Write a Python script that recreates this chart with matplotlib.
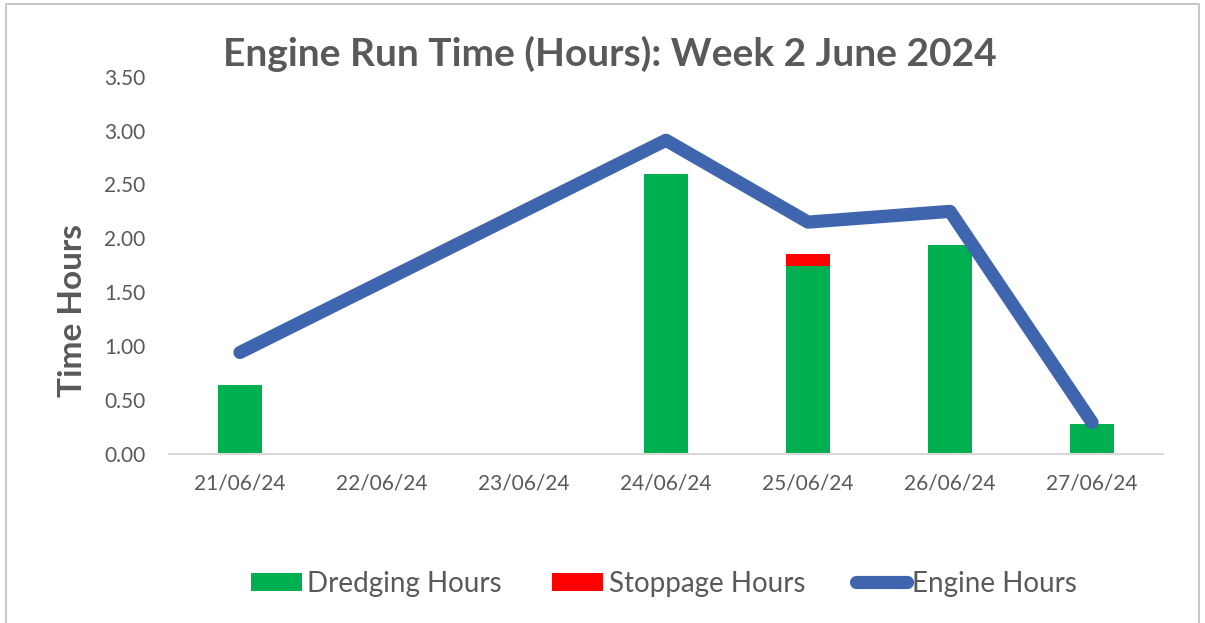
import numpy as np
import matplotlib
matplotlib.use("Agg")
import matplotlib.pyplot as plt
from matplotlib.patches import Rectangle

# values
dates = ["21/06/24", "22/06/24", "23/06/24", "24/06/24", "25/06/24", "26/06/24", "27/06/24"]
dredging = [0.64, 0.0, 0.0, 2.60, 1.74, 1.94, 0.28]
stoppage = [0.0, 0.0, 0.0, 0.0, 0.11, 0.0, 0.0]
engine = [0.94, np.nan, np.nan, 2.91, 2.15, 2.25, 0.29]

grey = "#595959"
plt.rcParams["font.family"] = ["Lato", "DejaVu Sans"]

fig = plt.figure(figsize=(12.05, 6.23), dpi=100)
ax = fig.add_axes([0.1402, 0.2717, 0.8250, 0.6052])

x = np.arange(len(dates))
b1 = ax.bar(x, dredging, width=0.31, color="#00B050", label="Dredging Hours", zorder=2)
b2 = ax.bar(x, stoppage, width=0.31, bottom=dredging, color="#FF0000", label="Stoppage Hours", zorder=2)

# empty days are skipped and the line joins the remaining points
eng = np.array(engine)
ok = ~np.isnan(eng)
l1, = ax.plot(x[ok], eng[ok], color="#3E65AD", lw=9.5, solid_capstyle="round",
              solid_joinstyle="round", label="Engine Hours", zorder=3)

ax.set_xlim(-0.5, len(dates) - 0.5)
ax.set_ylim(0, 3.5)
ax.set_yticks(np.arange(0, 3.51, 0.5))
ax.set_yticklabels([f"{v:.2f}" for v in np.arange(0, 3.51, 0.5)])
ax.set_xticks(x)
ax.set_xticklabels(dates)
ax.tick_params(axis="y", length=0, pad=17, labelsize=15, labelcolor=grey)
ax.tick_params(axis="x", length=0, pad=14, labelsize=15, labelcolor=grey)

for side in ["top", "right", "left"]:
    ax.spines[side].set_visible(False)
ax.spines["bottom"].set_color("#D9D9D9")
ax.spines["bottom"].set_linewidth(1.5)

ax.set_ylabel("Time Hours", fontsize=24, fontweight="bold", color=grey)
ax.yaxis.set_label_coords(-0.082, 0.38)

fig.text(0.506, 0.913, "Engine Run Time (Hours): Week 2 June 2024", ha="center", va="center",
         fontsize=28, fontweight="bold", color=grey)

leg = fig.legend([b1, b2, l1], ["Dredging Hours", "Stoppage Hours", "Engine Hours"],
                 loc="center", bbox_to_anchor=(0.551, 0.063), ncol=3,
                 frameon=False, fontsize=20, labelcolor=grey, handlelength=1.85,
                 handleheight=0.6, handletextpad=0.2, columnspacing=1.8)

# chart area border
fig.patches.append(Rectangle((0.005, -0.01), 0.99, 1.004, transform=fig.transFigure,
                             fill=False, edgecolor="#BFBFBF", lw=1.2))

fig.savefig("out.png", dpi=100)
